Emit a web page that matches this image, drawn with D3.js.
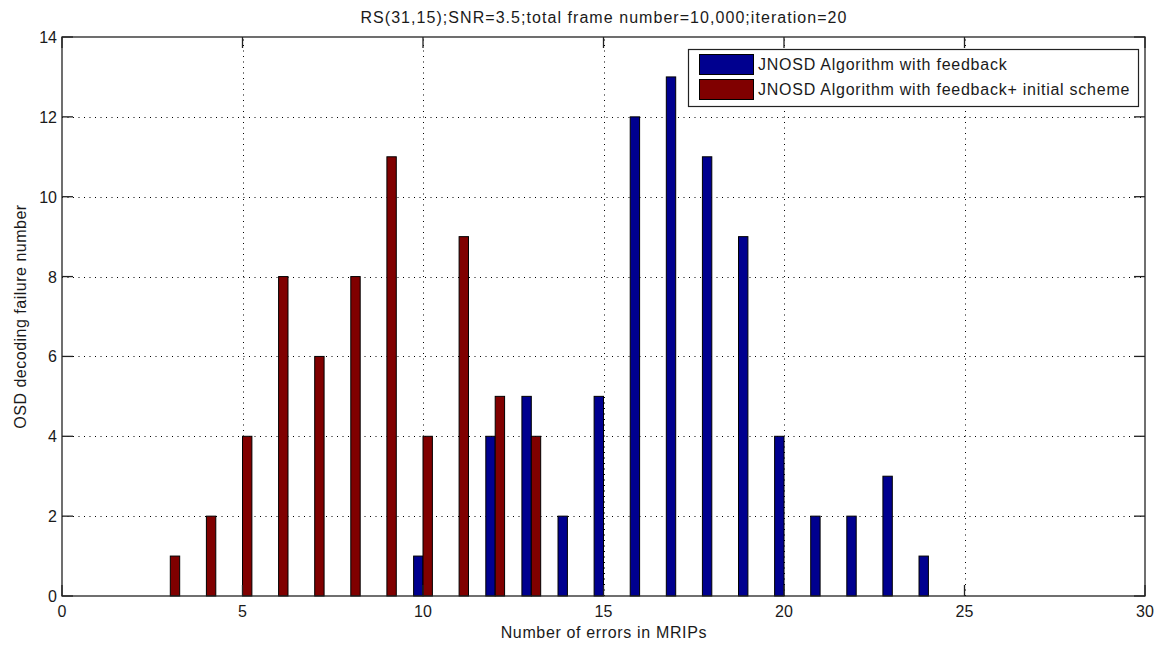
<!DOCTYPE html>
<html>
<head>
<meta charset="utf-8">
<script src="https://cdn.jsdelivr.net/npm/d3@7"></script>
<style>
  html, body { margin: 0; padding: 0; background: #fff; }
  svg { display: block; }
  text { font-family: "Liberation Sans", Arial, sans-serif; fill: #1a1a1a; }
</style>
</head>
<body>
<svg id="chart" width="1162" height="646"></svg>
<script>
// ---- data ----
const chartTitle = "RS(31,15);SNR=3.5;total frame number=10,000;iteration=20";
const xLabel = "Number of errors in MRIPs";
const yLabel = "OSD decoding failure number";
const seriesNames = ["JNOSD Algorithm with feedback", "JNOSD Algorithm with feedback+ initial scheme"];
const errorCounts   = [3, 4, 5, 6, 7, 8, 9, 10, 11, 12, 13, 14, 15, 16, 17, 18, 19, 20, 21, 22, 23, 24];
const feedback      = [0, 0, 0, 0, 0, 0, 0, 1, 0, 4, 5, 2, 5, 12, 13, 11, 9, 4, 2, 2, 3, 1];
const feedbackInit  = [1, 2, 4, 8, 6, 8, 11, 4, 9, 5, 4, 0, 0, 0, 0, 0, 0, 0, 0, 0, 0, 0];
const xTicks = [0, 5, 10, 15, 20, 25, 30];
const yTicks = [0, 2, 4, 6, 8, 10, 12, 14];
const colors = ["#00008f", "#800000"];

// ---- layout ----
const W = 1162, H = 646;
const L = 62, R = 1145, T = 37, B = 596;
const svg = d3.select("#chart");

const x = d3.scaleLinear().domain([0, 30]).range([L, R]);
const y = d3.scaleLinear().domain([0, 14]).range([B, T]);
const barW = 0.26; // in data units

// grid
const grid = svg.append("g").attr("stroke", "#000").attr("stroke-width", 1)
  .attr("stroke-dasharray", "1,4.5");
grid.selectAll("line.vx").data(xTicks.filter(d => d > 0 && d < 30)).join("line")
  .attr("x1", d => Math.round(x(d)) + 0.5).attr("x2", d => Math.round(x(d)) + 0.5)
  .attr("y1", B).attr("y2", T);
grid.selectAll("line.hy").data(yTicks.filter(d => d > 0 && d < 14)).join("line")
  .attr("y1", d => Math.round(y(d)) + 0.5).attr("y2", d => Math.round(y(d)) + 0.5)
  .attr("x1", L).attr("x2", R);

// bars
const series = [feedback, feedbackInit];
const offsets = [-barW, 0];
series.forEach((vals, si) => {
  const data = errorCounts.map((c, i) => ({c, v: vals[i]})).filter(d => d.v > 0);
  svg.append("g").selectAll("rect").data(data).join("rect")
    .attr("x", d => x(d.c + offsets[si]))
    .attr("width", d => x(d.c + offsets[si] + barW) - x(d.c + offsets[si]))
    .attr("y", d => y(d.v))
    .attr("height", d => y(0) - y(d.v))
    .attr("fill", colors[si])
    .attr("stroke", "#000").attr("stroke-width", 1);
});

// axes frame & ticks (inward)
const axisColor = "#222";
const tickLen = 11;
const fr = svg.append("g").attr("stroke", axisColor).attr("stroke-width", 1.3).attr("fill", "none");
fr.append("rect").attr("x", L).attr("y", T).attr("width", R - L).attr("height", B - T);
xTicks.forEach(t => {
  const px = x(t);
  fr.append("line").attr("x1", px).attr("x2", px).attr("y1", B).attr("y2", B - tickLen);
  fr.append("line").attr("x1", px).attr("x2", px).attr("y1", T).attr("y2", T + tickLen);
});
yTicks.forEach(t => {
  const py = y(t);
  fr.append("line").attr("y1", py).attr("y2", py).attr("x1", L).attr("x2", L + tickLen);
  fr.append("line").attr("y1", py).attr("y2", py).attr("x1", R).attr("x2", R - tickLen);
});

// tick labels
const tickFont = 16;
svg.append("g").selectAll("text").data(xTicks).join("text")
  .attr("x", d => x(d)).attr("y", B + 21)
  .attr("text-anchor", "middle").attr("font-size", tickFont)
  .text(d => d);
svg.append("g").selectAll("text").data(yTicks).join("text")
  .attr("x", L - 5).attr("y", d => y(d) + 6)
  .attr("text-anchor", "end").attr("font-size", tickFont)
  .text(d => d);

// title and labels
svg.append("text").attr("x", (L + R) / 2 + 0.5).attr("y", 23)
  .attr("text-anchor", "middle").attr("font-size", 16).attr("letter-spacing", 1.05).text(chartTitle);
svg.append("text").attr("x", (L + R) / 2 + 0.4).attr("y", 638)
  .attr("text-anchor", "middle").attr("font-size", 16).attr("letter-spacing", 0.65).text(xLabel);
svg.append("text").attr("transform", `translate(26,${(T + B) / 2}) rotate(-90)`)
  .attr("text-anchor", "middle").attr("font-size", 16).attr("letter-spacing", 0.5).text(yLabel);

// legend
const lg = svg.append("g");
lg.append("rect").attr("x", 688.5).attr("y", 49.5).attr("width", 450).attr("height", 57)
  .attr("fill", "#fff").attr("stroke", axisColor).attr("stroke-width", 1.2);
seriesNames.forEach((n, i) => {
  const yy = 54 + i * 25;
  lg.append("rect").attr("x", 699.5).attr("y", yy + 0.5).attr("width", 54).attr("height", 20)
    .attr("fill", colors[i]).attr("stroke", "#000").attr("stroke-width", 1);
  lg.append("text").attr("x", 758).attr("y", yy + 16).attr("font-size", 16)
    .attr("letter-spacing", 0.75).text(n);
});
</script>
</body>
</html>
